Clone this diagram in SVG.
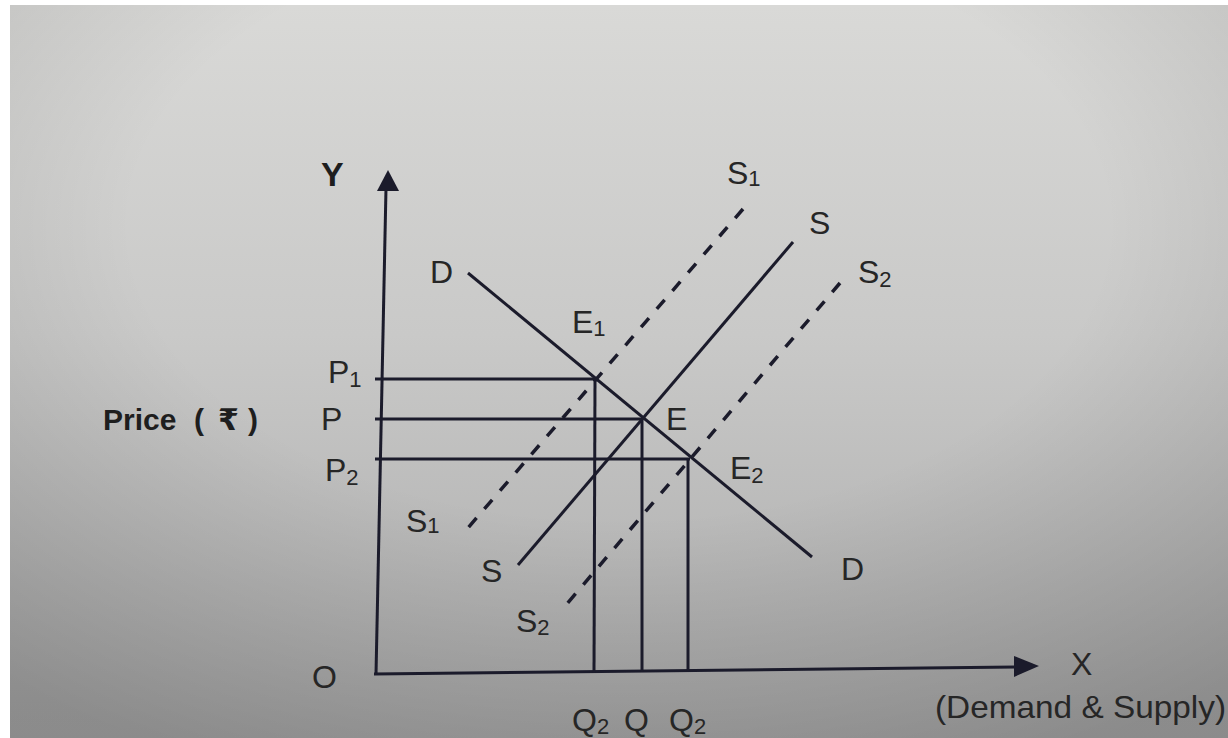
<svg xmlns="http://www.w3.org/2000/svg" width="1228" height="738" viewBox="0 0 1228 738">
<style>
.ln{stroke:#1b1b2b;stroke-width:3;fill:none;stroke-linecap:butt}
.ds{stroke:#1b1b2b;stroke-width:3.5;fill:none;stroke-dasharray:12 12}
.t{font-family:"Liberation Sans","DejaVu Sans",Arial,sans-serif;font-size:32px;fill:#262626}
.b{font-weight:bold;font-family:"Liberation Sans","DejaVu Sans",Arial,sans-serif;fill:#1e1e1e}
.sub{font-size:22px}
</style>
<defs>
<linearGradient id="bg" x1="0" y1="0" x2="0" y2="1">
<stop offset="0" stop-color="#d9d9d7"/>
<stop offset="0.45" stop-color="#c9c9c8"/>
<stop offset="1" stop-color="#a9a9a9"/>
</linearGradient>
<radialGradient id="vig" cx="0.5" cy="0.3" r="0.8">
<stop offset="0.5" stop-color="#000" stop-opacity="0"/>
<stop offset="1" stop-color="#000" stop-opacity="0.18"/>
</radialGradient>
</defs>
<rect width="1228" height="738" fill="#ffffff"/>
<rect x="10" y="5" width="1218" height="733" fill="url(#bg)"/>
<rect x="10" y="5" width="1218" height="733" fill="url(#vig)"/>

<g id="axes">
<line class="ln" x1="386" y1="188" x2="376" y2="675"/>
<polygon points="388,170 377,191 399,191" fill="#1b1b2b"/>
<line class="ln" x1="374" y1="674" x2="1016" y2="667"/>
<polygon points="1039,666 1014,656 1014,677" fill="#1b1b2b"/>
</g>

<g id="connectors">
<line class="ln" x1="375" y1="379" x2="597" y2="379"/>
<line class="ln" x1="375" y1="419" x2="643" y2="419"/>
<line class="ln" x1="375" y1="459" x2="690" y2="459"/>
<line class="ln" x1="595" y1="379" x2="594" y2="673"/>
<line class="ln" x1="642" y1="419" x2="642" y2="672"/>
<line class="ln" x1="688" y1="459" x2="688" y2="671"/>
<line id="demand" class="ln" x1="468" y1="273" x2="812" y2="557"/>
<line id="supply" class="ln" x1="518" y1="565" x2="793" y2="242"/>
<line id="supply1" class="ds" x1="743" y1="209" x2="467" y2="529"/>
<line id="supply2" class="ds" x1="840" y1="283" x2="566" y2="605"/>
</g>

<g id="axis-labels">
<text class="b" x="321" y="186" font-size="34">Y</text>
<text class="t" x="1071" y="675">X</text>
<text class="t" x="312" y="688">O</text>
<text class="t" x="935" y="718" textLength="291" lengthAdjust="spacingAndGlyphs">(Demand &amp; Supply)</text>
<text class="b" x="103" y="430" font-size="30">Price</text>
<text class="b" x="194" y="430" font-size="30">(</text>
<text class="b" x="218" y="430" font-size="30">₹</text>
<text class="b" x="248" y="430" font-size="30">)</text>
</g>

<g id="price-labels">
<text class="t" x="328" y="383">P<tspan class="sub" dy="4">1</tspan></text>
<text class="t" x="321" y="430">P</text>
<text class="t" x="325" y="481">P<tspan class="sub" dy="4">2</tspan></text>
</g>

<g id="curve-labels">
<text class="t" x="430" y="283">D</text>
<text class="t" x="841" y="580">D</text>
<text class="t" x="572" y="333">E<tspan class="sub" dy="3">1</tspan></text>
<text class="t" x="666" y="430">E</text>
<text class="t" x="730" y="479">E<tspan class="sub" dy="4">2</tspan></text>
<text class="t" x="727" y="184">S<tspan class="sub" dy="2">1</tspan></text>
<text class="t" x="809" y="234">S</text>
<text class="t" x="858" y="283">S<tspan class="sub" dy="4">2</tspan></text>
<text class="t" x="406" y="532">S<tspan class="sub" dy="1">1</tspan></text>
<text class="t" x="481" y="582">S</text>
<text class="t" x="516" y="632">S<tspan class="sub" dy="3">2</tspan></text>
</g>

<g id="quantity-labels">
<text class="t" x="572" y="731">Q<tspan class="sub" dy="3">2</tspan></text>
<text class="t" x="624" y="731">Q</text>
<text class="t" x="669" y="731">Q<tspan class="sub" dy="3">2</tspan></text>
</g>
</svg>
